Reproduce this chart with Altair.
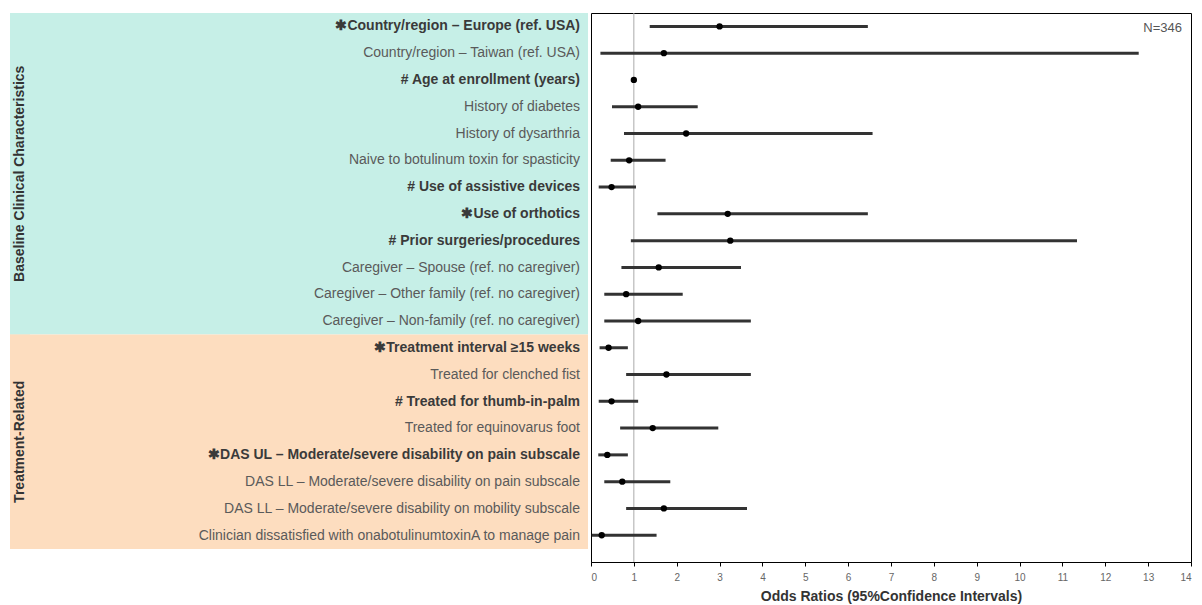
import altair as alt
import pandas as pd

labels = [
    "\u2731Country/region \u2013 Europe (ref. USA)",
    "Country/region \u2013 Taiwan (ref. USA)",
    "# Age at enrollment (years)",
    "History of diabetes",
    "History of dysarthria",
    "Naive to botulinum toxin for spasticity",
    "# Use of assistive devices",
    "\u2731Use of orthotics",
    "# Prior surgeries/procedures",
    "Caregiver \u2013 Spouse (ref. no caregiver)",
    "Caregiver \u2013 Other family (ref. no caregiver)",
    "Caregiver \u2013 Non-family (ref. no caregiver)",
    "\u2731Treatment interval \u226515 weeks",
    "Treated for clenched fist",
    "# Treated for thumb-in-palm",
    "Treated for equinovarus foot",
    "\u2731DAS UL \u2013 Moderate/severe disability on pain subscale",
    "DAS LL \u2013 Moderate/severe disability on pain subscale",
    "DAS LL \u2013 Moderate/severe disability on mobility subscale",
    "Clinician dissatisfied with onabotulinumtoxinA to manage pain",
]
bold = [True, False, True, False, False, False, True, True, True, False,
        False, False, True, False, True, False, True, False, False, False]
groups = ["Baseline Clinical Characteristics"] * 12 + ["Treatment-Related"] * 8
odds = [3.00, 1.70, 1.00, 1.10, 2.22, 0.89, 0.48, 3.19, 3.25, 1.58,
        0.82, 1.10, 0.41, 1.76, 0.48, 1.44, 0.38, 0.73, 1.70, 0.25]
low = [1.37, 0.22, 0.98, 0.49, 0.77, 0.46, 0.18, 1.55, 0.93, 0.71,
       0.31, 0.31, 0.20, 0.82, 0.18, 0.68, 0.17, 0.31, 0.82, 0.02]
high = [6.46, 12.78, 1.02, 2.49, 6.57, 1.74, 1.05, 6.46, 11.34, 3.50,
        2.14, 3.73, 0.86, 3.73, 1.10, 2.97, 0.86, 1.85, 3.64, 1.53]
group_names = ["Baseline Clinical Characteristics", "Treatment-Related"]
light_colors = ["#C6EFE7", "#FDDDBF"]
dark_colors = ["#20C09E", "#F47B14"]
n_text = "N=346"
x_title = "Odds Ratios (95%Confidence Intervals)"

df = pd.DataFrame({
    "label": labels, "bold": bold, "group": groups,
    "odds": odds, "low": low, "high": high,
    "row": list(range(1, len(labels) + 1)),
})

FONT = "Liberation Sans"
NROW = len(labels)
H = 536
RH = 549
LW = 578
RW = 600
yscale_left = alt.Scale(domain=[0.5, NROW + 0.5], reverse=True, nice=False, zero=False)
yscale_right = alt.Scale(domain=[0.5, NROW + 1.0], reverse=True, nice=False, zero=False)

base_left = alt.Chart(df)

grp = base_left.transform_aggregate(
    rmin="min(row)", rmax="max(row)", yc="mean(row)", groupby=["group"]
).transform_calculate(y0="datum.rmin - 0.5", y1="datum.rmax + 0.5")

bg = grp.mark_rect().encode(
    y=alt.Y("y0:Q", scale=yscale_left, axis=None),
    y2="y1:Q",
    x=alt.value(0), x2=alt.value(LW),
    color=alt.Color("group:N", scale=alt.Scale(domain=group_names, range=light_colors), legend=None),
)
strip = grp.mark_rect().encode(
    y=alt.Y("y0:Q", scale=yscale_left, axis=None),
    y2="y1:Q",
    x=alt.value(0), x2=alt.value(20),
    color=alt.Color("group:N", scale=alt.Scale(domain=group_names, range=dark_colors), legend=None),
)
glabel = grp.mark_text(angle=270, align="center", baseline="middle", font=FONT,
                       fontSize=14, fontWeight="bold", color="#333333").encode(
    y=alt.Y("yc:Q", scale=yscale_left, axis=None),
    x=alt.value(10),
    text="group:N",
)
txt_norm = base_left.transform_filter("!datum.bold").mark_text(
    align="right", baseline="middle", font=FONT, fontSize=14, color="#5a5a5a"
).encode(y=alt.Y("row:Q", scale=yscale_left, axis=None), x=alt.value(LW - 8), text="label:N")
txt_bold = base_left.transform_filter("datum.bold").mark_text(
    align="right", baseline="middle", font=FONT, fontSize=14, fontWeight="bold", color="#3a3a3a"
).encode(y=alt.Y("row:Q", scale=yscale_left, axis=None), x=alt.value(LW - 8), text="label:N")

left = alt.layer(bg, strip, glabel, txt_norm, txt_bold).properties(
    width=LW, height=H, view=alt.ViewBackground(strokeWidth=0)
)

xscale = alt.Scale(domain=[0, 14], nice=False)
xaxis = alt.Axis(values=list(range(0, 15)), grid=False, labelFont=FONT, labelFontSize=10,
                 labelColor="#666666", tickColor="#000000", tickSize=4, domainColor="#000000",
                 title=x_title, titleFont=FONT, titleFontSize=14, titleFontWeight="bold",
                 titleColor="#333333", titlePadding=7, labelPadding=6)

base_right = alt.Chart(df)
refline = base_right.transform_aggregate(n="count()").transform_calculate(one="1").mark_rule(
    color="#aaaaaa", strokeWidth=1
).encode(x=alt.X("one:Q", scale=xscale, axis=xaxis), y=alt.value(0), y2=alt.value(RH))
bars = base_right.mark_rule(color="#333333", strokeWidth=3).encode(
    x=alt.X("low:Q", scale=xscale, axis=xaxis),
    x2="high:Q",
    y=alt.Y("row:Q", scale=yscale_right, axis=None),
)
pts = base_right.mark_circle(color="#000000", opacity=1, size=40).encode(
    x=alt.X("odds:Q", scale=xscale, axis=xaxis),
    y=alt.Y("row:Q", scale=yscale_right, axis=None),
)
ntext = alt.Chart(pd.DataFrame({"t": [n_text]})).mark_text(
    align="right", baseline="middle", font=FONT, fontSize=13, color="#555555"
).encode(x=alt.value(RW - 9), y=alt.value(15), text="t:N")

right = alt.layer(refline, bars, pts, ntext).properties(
    width=RW, height=RH, view=alt.ViewBackground(stroke="#000000", strokeWidth=1)
)

chart = alt.hconcat(left, right, spacing=1).properties(
    padding={"left": 2, "top": 4, "right": 2, "bottom": 0}
).configure(background="#ffffff")

chart.save("out.html", embed_options={"renderer": "svg", "actions": False})
